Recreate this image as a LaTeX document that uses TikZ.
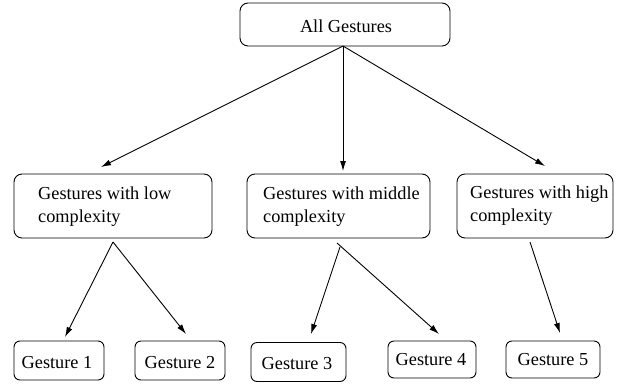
\documentclass[tikz,border=0pt]{standalone}
\usepackage{fontspec}
\setmainfont{Liberation Serif}
\usetikzlibrary{arrows.meta}
\begin{document}
\begin{tikzpicture}[x=1pt,y=-1pt,
  box/.style={draw, rounded corners=8pt, line width=0.9pt, inner sep=0pt},
  gbox/.style={draw, rounded corners=6pt, line width=0.9pt, inner sep=0pt},
  lbl/.style={font=\fontsize{18.3}{23}\selectfont, inner sep=0pt, anchor=base west, align=left},
  conn/.style={line width=0.9pt, -{Latex[length=10pt,width=6pt]}}]
\useasboundingbox (0,0) rectangle (623,383);
% top
\node[box, minimum width=210pt, minimum height=43pt] (all) at (345,24.5) {};
\node[lbl, anchor=base] (allt) at (346,32) {All Gestures};
% middle level
\node[box, minimum width=198pt, minimum height=64pt] (low) at (113,206) {};
\node[lbl] (lowt) at (38,222) {Gestures with low\\complexity};
\node[box, minimum width=183pt, minimum height=64pt] (mid) at (338.5,206) {};
\node[lbl] (midt) at (263,222) {Gestures with middle\\complexity};
\node[box, minimum width=156pt, minimum height=64pt] (high) at (535,206) {};
\node[lbl] (hight) at (470,221) {Gestures with high\\complexity};
% bottom level
\node[gbox, minimum width=90pt, minimum height=39pt] (g1) at (59,360.5) {};
\node[lbl, anchor=base] at (57,368) {Gesture 1};
\node[gbox, minimum width=90pt, minimum height=39pt] (g2) at (180,360.5) {};
\node[lbl, anchor=base] at (180,368) {Gesture 2};
\node[gbox, minimum width=95pt, minimum height=39pt] (g3) at (298.5,362) {};
\node[lbl, anchor=base] at (297,369) {Gesture 3};
\node[gbox, minimum width=88pt, minimum height=37pt] (g4) at (432,359.5) {};
\node[lbl, anchor=base] at (431,365) {Gesture 4};
\node[gbox, minimum width=94pt, minimum height=37pt] (g5) at (553,359.5) {};
\node[lbl, anchor=base] at (553,365) {Gesture 5};
% connector end points
\coordinate (a0) at (343,46);
\coordinate (a1) at (101,167);
\coordinate (a2) at (343,171);
\coordinate (a3) at (545,166);
\coordinate (l0) at (113,242);
\coordinate (l1) at (65,337);
\coordinate (l2) at (186,334);
\coordinate (m0) at (340,247);
\coordinate (m0b) at (337,243);
\coordinate (m1) at (311,334);
\coordinate (m2) at (439,334);
\coordinate (h0) at (530,242);
\coordinate (h1) at (560,333);
\draw[conn] (a0) -- (a1);
\draw[conn] (a0) -- (a2);
\draw[conn] (a0) -- (a3);
\draw[conn] (l0) -- (l1);
\draw[conn] (l0) -- (l2);
\draw[conn] (m0) -- (m1);
\draw[conn] (m0b) -- (m2);
\draw[conn] (h0) -- (h1);
\end{tikzpicture}
\end{document}
